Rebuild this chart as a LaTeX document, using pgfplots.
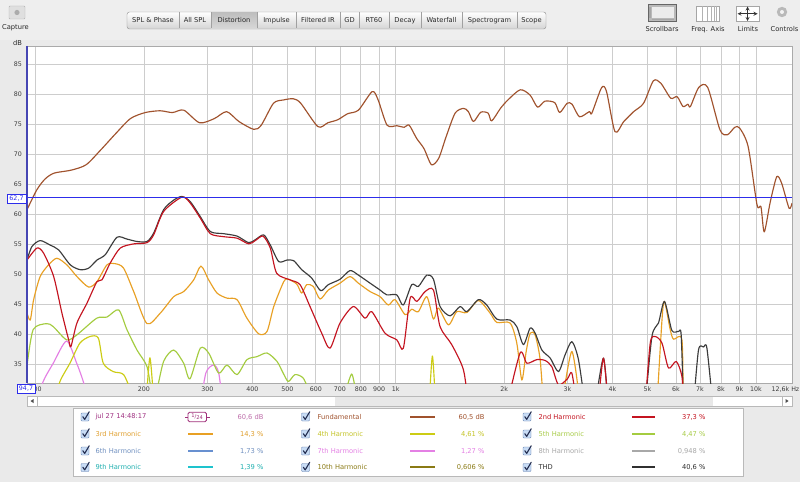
\documentclass[border=0pt]{standalone}
\usepackage{pgfplots}
\pgfplotsset{compat=1.18}
\usepackage{fontspec}
\setmainfont{DejaVu Sans}
\definecolor{fundc}{RGB}{160,82,45}
\definecolor{thdc}{RGB}{60,60,60}
\definecolor{hbc}{RGB}{196,20,32}
\definecolor{hcc}{RGB}{232,160,36}
\definecolor{hdc}{RGB}{204,204,20}
\definecolor{hec}{RGB}{164,204,64}
\definecolor{hfc}{RGB}{104,144,208}
\definecolor{hgc}{RGB}{228,128,228}
\definecolor{hhc}{RGB}{168,168,168}
\definecolor{hic}{RGB}{30,195,205}
\definecolor{hjc}{RGB}{138,122,20}
\definecolor{limc}{RGB}{45,45,235}
\definecolor{gridc}{RGB}{205,205,205}
\definecolor{bgc}{RGB}{234,234,234}
\definecolor{tbc}{RGB}{238,238,238}
\definecolor{txtc}{RGB}{60,60,60}
\definecolor{btntxt}{RGB}{40,40,40}
\definecolor{btnbot}{RGB}{212,212,212}
\definecolor{btnbrd}{RGB}{140,140,140}
\definecolor{btnsel1}{RGB}{190,190,190}
\definecolor{btnsel2}{RGB}{215,215,215}
\definecolor{btnsep}{RGB}{160,160,160}
\definecolor{axc}{RGB}{170,170,170}
\definecolor{spinec}{RGB}{70,70,180}
\definecolor{cbfill}{RGB}{200,220,245}
\definecolor{cbdraw}{RGB}{90,120,170}
\definecolor{cbcheck}{RGB}{35,45,80}
\definecolor{laa}{RGB}{160,50,130}
\definecolor{lab}{RGB}{160,48,122}
\definecolor{lav}{RGB}{190,110,170}
\definecolor{lcc}{RGB}{224,160,48}
\definecolor{ldc}{RGB}{196,196,40}
\definecolor{lec}{RGB}{168,204,72}
\definecolor{lfc}{RGB}{112,144,192}
\definecolor{lic}{RGB}{32,176,176}
\definecolor{lthd}{RGB}{48,48,48}
\newcommand{\cbox}[2]{%
  \draw[cbdraw,fill=cbfill,rounded corners=0.8pt] (#1-4,#2-4) rectangle (#1+4,#2+4);
  \draw[cbcheck,line width=1.1pt,line cap=round,line join=round] (#1-2.2,#2-0.3) -- (#1-0.3,#2+2.4) -- (#1+4.2,#2-5.2);}
\begin{document}
\begin{tikzpicture}[font=\fontsize{6.7}{8}\selectfont]
\path[use as bounding box] (0,0) rectangle (800pt,482pt);
\begin{scope}[x=1pt,y=-1pt,shift={(0pt,482pt)}]
  \fill[bgc] (0,0) rectangle (800,482);
  \fill[tbc] (0,0) rectangle (800,40);
  % toolbar buttons
  \path[top color=white,bottom color=btnbot,draw=btnbrd,rounded corners=2.5pt] (127,12) rectangle (546,29);
  \path[top color=btnsel1,bottom color=btnsel2] (211,12.5) rectangle (257,28.5);
  \foreach \s in {179,211,257,296,340,359,389,421,462,517} \draw[btnsep] (\s,12.5) -- (\s,28.5);
  \begin{scope}[text=btntxt]
  \node at (153,20.5) {SPL \& Phase};
  \node at (195,20.5) {All SPL};
  \node at (234,20.5) {Distortion};
  \node at (276.5,20.5) {Impulse};
  \node at (318,20.5) {Filtered IR};
  \node at (349.5,20.5) {GD};
  \node at (374,20.5) {RT60};
  \node at (405,20.5) {Decay};
  \node at (441.5,20.5) {Waterfall};
  \node at (489.5,20.5) {Spectrogram};
  \node at (531.5,20.5) {Scope};
  \node at (15.5,28) {Capture};
  \node at (662,29.5) {Scrollbars};
  \node at (708,29.5) {Freq. Axis};
  \node at (748,29.5) {Limits};
  \node at (784.5,29.5) {Controls};
  \node at (17.5,43) {dB};
  \end{scope}
  % icons
  \draw[gray!60,fill=gray!25,rounded corners=1pt] (9,6) rectangle (25,19);
  \fill[gray!65] (17,12.5) circle (2.6);
  \draw[gray!80!black,fill=gray!55] (648,4) rectangle (676,21.5);
  \fill[white!85!gray] (652,7) rectangle (674,18);
  \fill[gray!70] (649,7) rectangle (651,18);
  \fill[gray!70] (652,19) rectangle (674,20.5);
  \draw[gray!70,fill=white] (696,6) rectangle (719,21.5);
  \foreach \v in {702,707,711,714,716.5} \draw[gray!60] (\v,6) -- (\v,21.5);
  \draw[gray!70,fill=white] (736,6) rectangle (759,21.5);
  \draw[black!80,line width=0.8pt,<->,>=stealth] (737.5,13.75) -- (757.5,13.75);
  \draw[black!80,line width=0.8pt,<->,>=stealth] (747.5,6.5) -- (747.5,21);
  \fill[gray!55] (782,12) circle (5.2);
  \fill[white!90!gray] (782,12) circle (2);
  % scrollbar
  \fill[white] (27,396) rectangle (792,406);
  \fill[gray!18] (335,396) rectangle (713,406);
  \draw[gray!55] (27,396) rectangle (792,406);
  \draw[gray!55] (37,396) -- (37,406);
  \draw[gray!55] (782,396) -- (782,406);
  \fill[black!70] (30.5,401) -- (33.5,399) -- (33.5,403) -- cycle;
  \fill[black!70] (788.5,401) -- (785.5,399) -- (785.5,403) -- cycle;
  % legend panel
  \draw[gray!55,fill=white] (73,408) rectangle (743,476);
  % row 1
  \cbox{85}{417}
  \node[anchor=west,text=laa] at (92,417) {jul 27 14:48:17};
  \draw[draw=lab,line width=0.8pt,rounded corners=1.5pt] (188,412.3) rectangle (206.5,421.7);
  \draw[draw=lab,line width=0.8pt] (185,417) -- (188,417) (206.5,417) -- (209.5,417);
  \node[text=lab,inner sep=0pt] at (197.2,417) {\fontsize{5.2}{6}\selectfont\raisebox{1pt}{1}/\raisebox{-0.8pt}{24}};
  \node[anchor=east,text=lav] at (267,417) {60,6 dB};
  \cbox{305.5}{417}
  \node[anchor=west,text=fundc] at (314,417) {Fundamental};
  \draw[draw=fundc,line width=1.4pt] (410,417) -- (435,417);
  \node[anchor=east,text=fundc] at (488,417) {60,5 dB};
  \cbox{527}{417}
  \node[anchor=west,text=hbc] at (535,417) {2nd Harmonic};
  \draw[draw=hbc,line width=1.4pt] (632,417) -- (655,417);
  \node[anchor=east,text=hbc] at (709,417) {37,3 \%};
  % row 2
  \cbox{85}{434}
  \node[anchor=west,text=lcc] at (92,434) {3rd Harmonic};
  \draw[draw=hcc,line width=1.4pt] (188,434) -- (213,434);
  \node[anchor=east,text=lcc] at (267,434) {14,3 \%};
  \cbox{305.5}{434}
  \node[anchor=west,text=ldc] at (314,434) {4th Harmonic};
  \draw[draw=hdc,line width=1.4pt] (410,434) -- (435,434);
  \node[anchor=east,text=ldc] at (488,434) {4,61 \%};
  \cbox{527}{434}
  \node[anchor=west,text=lec] at (535,434) {5th Harmonic};
  \draw[draw=hec,line width=1.4pt] (632,434) -- (655,434);
  \node[anchor=east,text=lec] at (709,434) {4,47 \%};
  % row 3
  \cbox{85}{451}
  \node[anchor=west,text=lfc] at (92,451) {6th Harmonic};
  \draw[draw=hfc,line width=1.4pt] (188,451) -- (213,451);
  \node[anchor=east,text=lfc] at (267,451) {1,73 \%};
  \cbox{305.5}{451}
  \node[anchor=west,text=hgc] at (314,451) {7th Harmonic};
  \draw[draw=hgc,line width=1.4pt] (410,451) -- (435,451);
  \node[anchor=east,text=hgc] at (488,451) {1,27 \%};
  \cbox{527}{451}
  \node[anchor=west,text=hhc] at (535,451) {8th Harmonic};
  \draw[draw=hhc,line width=1.4pt] (632,451) -- (655,451);
  \node[anchor=east,text=hhc] at (709,451) {0,948 \%};
  % row 4
  \cbox{85}{467.5}
  \node[anchor=west,text=lic] at (92,467.5) {9th Harmonic};
  \draw[draw=hic,line width=1.4pt] (188,467) -- (213,467);
  \node[anchor=east,text=lic] at (267,467.5) {1,39 \%};
  \cbox{305.5}{467.5}
  \node[anchor=west,text=hjc] at (314,467.5) {10th Harmonic};
  \draw[draw=hjc,line width=1.4pt] (410,467) -- (435,467);
  \node[anchor=east,text=hjc] at (488,467.5) {0,606 \%};
  \cbox{527}{467.5}
  \node[anchor=west,text=lthd] at (535,467.5) {THD};
  \draw[draw=lthd,line width=1.4pt] (632,467) -- (655,467);
  \node[anchor=east,text=lthd] at (709,467.5) {40,6 \%};
\end{scope}

\begin{axis}[
  at={(27pt,99pt)}, anchor=south west,
  scale only axis, width=765pt, height=337pt,
  xmode=log, xmin=94.7, xmax=12600, ymin=31.8, ymax=88,
  axis background/.style={fill=white},
  axis line style={draw=axc},
  grid=major, major grid style={draw=gridc, line width=0.6pt},
  xminorticks=false, yminorticks=false,
  xtick={100,200,300,400,500,600,700,800,900,1000,2000,3000,4000,5000,6000,7000,8000,9000,10000},
  xticklabels={100,200,300,400,500,600,700,800,900,1k,2k,3k,4k,5k,6k,7k,8k,9k,10k},
  ytick={35,40,45,50,55,60,65,70,75,80,85},
  major tick length=0pt,
  tick label style={font=\fontsize{6.3}{7.5}\selectfont, text=txtc},
  xticklabel style={anchor=center, yshift=-6pt},
  yticklabel style={anchor=east, xshift=-1.5pt},
  /pgf/number format/assume math mode=true,
  unbounded coords=jump,
  every axis plot/.append style={line width=1.15pt, line join=round, smooth, tension=0.45},
]
% 7th harmonic
\addplot[draw=hgc] coordinates {(100,28) (105,32.05) (112,35.1) (122,38.8) (130.1,35.1) (135.7,32.05) (141.6,28) (200,nan) (286.7,28) (297.3,33.5) (312.3,34.8) (322.5,33.5) (331.5,28)};
% 5th harmonic
\addplot[draw=hec] coordinates {(94.7,34.6) (98.5,40.7) (107.3,41.7) (112,41.2) (122,39.0) (130.1,39.8) (147.8,42.6) (157.9,42.8) (170.1,44.0) (179.4,40.7) (191.3,37.3) (203.9,34.55) (210.5,30) (216,30) (226.8,35.4) (241.9,37.3) (257.8,35.1) (268.4,32.5) (286.7,37.6) (302.5,36.8) (322.5,33.45) (340.1,34.8) (362.6,33.2) (386.5,35.7) (412.1,36.2) (439.3,36.8) (468.2,35.4) (486.6,33.5) (503.4,32.05) (525.3,33.2) (554,32.6) (578.3,30) (600,nan) (723.4,30) (755,33.3) (776.1,30)};
% 4th harmonic
\addplot[draw=hdc] coordinates {(112,28) (116.9,32.05) (124.6,35.1) (132.8,38.45) (141.6,39.55) (149.4,39.3) (154.2,35.1) (164.3,33.7) (175.6,33.2) (185.2,30) (190,28) (195,nan) (202.6,28) (207.8,36) (213.2,28) (220,nan) (1238,28) (1264.5,36.3) (1290.6,28)};
% 3rd harmonic
\addplot[draw=hcc] coordinates {(94.7,43.45) (96.7,42.3) (98.8,45.7) (103,49.55) (108.7,51.5) (114.6,52.6) (122.2,51.5) (130.3,49.55) (140.4,47.8) (148.1,48.7) (157.9,51.5) (166.4,51.7) (175.6,50.95) (187.3,47.05) (203.9,41.7) (222,43.45) (241.9,46.2) (257.8,47.05) (274.9,49.0) (288,51.3) (302.5,49.0) (319.1,46.8) (340.1,45.95) (362.6,45.7) (386.5,42.6) (416.6,40.0) (439.3,40.4) (458.6,44.55) (488.9,48.7) (503.4,49.1) (531.2,48.3) (548.3,46.8) (566.1,48.2) (590.7,47.9) (616.5,45.8) (650.1,47.3) (700.6,48.45) (746.9,49.55) (787.7,48.45) (848.9,47.05) (905,46.2) (954.2,44.8) (996,45.7) (1062,43.2) (1108,44.1) (1156,43.7) (1220,46.2) (1273,42.45) (1314,44.3) (1401,41.5) (1478,43.7) (1576,43.55) (1697,45.55) (1829,43.45) (1909,41.9) (2078,41.8) (2169,38.45) (2240,32.3) (2302,37) (2362,40.1) (2439,39.8) (2518,35.7) (2572,28) (2700,nan) (2893,28) (3084,37.05) (3252,28) (3500,nan) (5312,28) (5487,42.3) (5576,45.4) (5784,40.7) (5908,39.1) (6233,39.0) (6280,28)};
% THD
\addplot[draw=thdc] coordinates {(94.7,52.3) (97.7,54.55) (103,55.55) (109.8,54.8) (115.9,54.0) (124.9,51.5) (133,50.7) (140.4,50.95) (148.1,52.3) (156.2,53.2) (168.3,56.1) (179.4,55.8) (191.3,55.4) (203.9,55.4) (212.8,56.8) (226.8,60.7) (241.9,62.3) (255,62.9) (268.9,62.05) (286.7,59.55) (305.7,57.05) (333,56.7) (362.6,56.3) (390.7,55.2) (407.6,55.7) (430.1,56.5) (448.6,54.8) (473.4,52.05) (499.1,52.3) (520.9,52.2) (548.3,50.7) (584.5,49.3) (619.2,47.2) (650.1,48.2) (700.6,49.1) (746.9,50.55) (787.7,49.8) (848.9,48.45) (905,47.3) (944.6,46.5) (1007,46.5) (1050,44.8) (1108,48.2) (1156,47.9) (1220,49.8) (1273,49.1) (1328,44.55) (1416,43.0) (1509,44.55) (1576,43.7) (1697,45.7) (1790,44.8) (1909,42.45) (2078,42.3) (2169,41.2) (2263,38.2) (2362,40.95) (2439,40.1) (2546,37.3) (2685,35.95) (2831,33.7) (2954,36.5) (3084,38.7) (3217,35.7) (3358,28) (3400,nan) (3579,28) (3774,35.95) (3889,28) (4000,nan) (4929,28) (5145,39.55) (5366,41.8) (5576,45.4) (5846,40.55) (6099,40.4) (6204,39.8) (6296,28) (6500,nan) (6712,28) (6930,37.3) (7156,37.8) (7314,37.6) (7598,28)};
% 2nd harmonic
\addplot[draw=hbc] coordinates {(94.7,52.3) (100.9,54.3) (105.3,53.45) (112.3,49.55) (118.4,43.45) (123.6,39.0) (125.4,37.9) (130.3,41.8) (138.9,45.1) (148.1,48.7) (152.9,49.0) (161.2,51.8) (171.9,54.3) (187.3,55.0) (203.9,55.2) (212.8,56.5) (226.8,60.4) (255,62.8) (268.9,61.8) (286.7,59.3) (305.7,56.7) (333,56.2) (362.6,55.95) (390.7,55.0) (407.6,55.55) (428.2,56.3) (448.6,54.3) (467.3,50.1) (508.8,49.0) (542.5,48.2) (578.3,44.55) (623.2,40.1) (657.2,37.6) (700.6,41.8) (762.9,44.55) (822.2,42.6) (858.2,43.7) (934.2,40.1) (1007,39.0) (1050,37.6) (1097,45.95) (1145,45.4) (1207,47.05) (1273,47.3) (1328,41.2) (1431,38.2) (1542,34.0) (1592,28) (1700,nan) (2035,28) (2215,36.8) (2313,35.1) (2465,35.7) (2600,35.55) (2714,34.5) (2831,31.5) (2998,32.5) (3084,33.45) (3184,28) (3300,nan) (3648,28) (3774,35.95) (3889,28) (4000,nan) (4929,28) (5090,38.45) (5255,39.55) (5487,38.45) (5722,34.3) (6011,35.4) (6233,32.9) (6300,28)};
% Fundamental
\addplot[draw=fundc] coordinates {(94.7,60.7) (100.8,64.0) (106.2,65.8) (112.6,66.8) (125.7,67.3) (138.2,68.2) (151.9,70.7) (167,73.4) (183.5,75.9) (201.7,76.9) (221.7,77.2) (240,76.9) (258,77.3) (285.4,75.2) (313.8,75.9) (339.4,77.05) (367.2,75.4) (403.6,74.1) (423.4,74.8) (457.8,78.45) (487.8,79.0) (519.6,79.2) (545,78.45) (608.4,74.55) (648.2,75.2) (690.4,75.7) (735.2,76.7) (788,77.3) (860.8,80.4) (893.8,79.0) (946.4,74.8) (1007.6,74.7) (1056.6,74.45) (1090,74.8) (1143,72.6) (1198,70.9) (1257,68.2) (1317,69.3) (1381,72.9) (1462,76.8) (1543,77.6) (1592,77.05) (1644,75.4) (1722,76.95) (1806,76.8) (1847,75.5) (1954,77.6) (2049,79.0) (2217,80.7) (2362,79.8) (2477,77.8) (2596,78.8) (2765,78.55) (2853,76.9) (2992,78.45) (3088,78.3) (3238,76.2) (3448,77.05) (3504,76.8) (3730,81.05) (3850,80.4) (4064,73.7) (4298,75.4) (4578,77.05) (4878,78.45) (5194,82.2) (5445,81.8) (5802,79.3) (6046,79.55) (6278,77.9) (6478,78.3) (6580,77.9) (6944,81.1) (7350,81.1) (7952,74.0) (8338,73.2) (8742,74.45) (9020,74.3) (9520,71.2) (10076,61.5) (10332,61.2) (10552,57.0) (10964,62) (11430,66.2) (11794,65.1) (12366,60.95) (12600,61.8)};
% limit line
\addplot[draw=limc, line width=1.2pt, sharp plot] coordinates {(94.7,62.7) (12600,62.7)};
\end{axis}

\begin{scope}[x=1pt,y=-1pt,shift={(0pt,482pt)}]
  \draw[draw=spinec,line width=1.2pt] (27,46) -- (27,383);
  \draw[draw=limc,fill=white,line width=0.7pt] (7,194) rectangle (26,203);
  \node[text=limc,font=\fontsize{6.3}{7.5}\selectfont] at (16.5,198.5) {62,7};
  \draw[draw=limc,fill=white,line width=0.7pt] (17,384.5) rectangle (35,393.5);
  \node[text=limc,font=\fontsize{6.3}{7.5}\selectfont] at (26,389) {94,7};
  \node[anchor=east,text=txtc,font=\fontsize{6.3}{7.5}\selectfont,inner xsep=0.5pt] at (800,389.3) {12,6k Hz};
\end{scope}
\end{tikzpicture}
\end{document}
